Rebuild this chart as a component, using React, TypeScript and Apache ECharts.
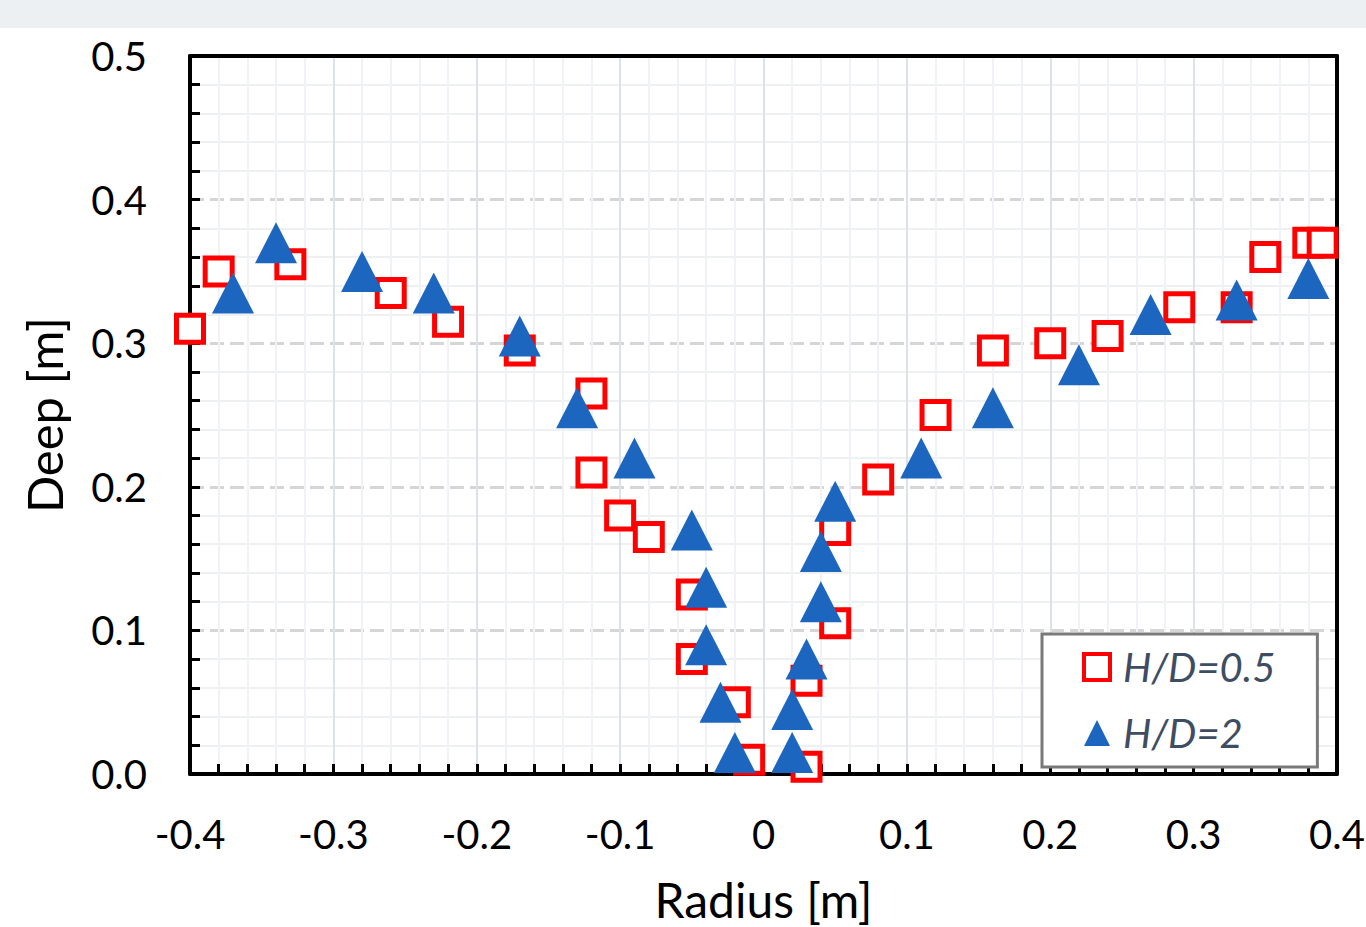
import React, { useEffect, useRef } from "react";
import * as echarts from "echarts";

const seriesNames = ["H/D=0.5", "H/D=2"];

const squareX = [-0.40, -0.38, -0.33, -0.26, -0.22, -0.17, -0.12, -0.12, -0.10, -0.08, -0.05, -0.05, -0.02, -0.01, 0.03, 0.03, 0.05, 0.05, 0.08, 0.12, 0.16, 0.20, 0.24, 0.29, 0.33, 0.35, 0.38, 0.39];
const squareY = [0.31, 0.35, 0.355, 0.335, 0.315, 0.295, 0.265, 0.21, 0.18, 0.165, 0.125, 0.08, 0.05, 0.01, 0.005, 0.065, 0.105, 0.17, 0.205, 0.25, 0.295, 0.30, 0.305, 0.325, 0.325, 0.36, 0.37, 0.37];

const triX = [-0.37, -0.34, -0.28, -0.23, -0.17, -0.13, -0.09, -0.05, -0.04, -0.04, -0.03, -0.02, 0.02, 0.02, 0.03, 0.04, 0.04, 0.05, 0.11, 0.16, 0.22, 0.27, 0.33, 0.38];
const triY = [0.335, 0.37, 0.35, 0.335, 0.305, 0.255, 0.22, 0.17, 0.13, 0.09, 0.05, 0.015, 0.015, 0.045, 0.08, 0.12, 0.155, 0.19, 0.22, 0.255, 0.285, 0.32, 0.33, 0.345];

const xTickValues = [-0.4, -0.3, -0.2, -0.1, 0, 0.1, 0.2, 0.3, 0.4];
const xTickLabels = ["-0.4", "-0.3", "-0.2", "-0.1", "0", "0.1", "0.2", "0.3", "0.4"];
const yTickValues = [0, 0.1, 0.2, 0.3, 0.4, 0.5];
const yTickLabels = ["0.0", "0.1", "0.2", "0.3", "0.4", "0.5"];

const xTitle = "Radius [m]";
const yTitle = "Deep [m]";

function lookup(values: number[], labels: string[], v: number) {
  for (let i = 0; i < values.length; i++) {
    if (Math.abs(values[i] - v) < 1e-6) return labels[i];
  }
  return "";
}

const FONT = "Lato";

export default function App() {
  const ref = useRef<HTMLDivElement>(null);
  useEffect(() => {
    if (!ref.current) return;
    const chart = echarts.init(ref.current, undefined, { renderer: "svg" });
    const sqData = squareX.map((x, i) => [x, squareY[i]]);
    const trData = triX.map((x, i) => [x, triY[i]]);
    const frameAxis = {
      axisLine: { show: true, onZero: false, lineStyle: { color: "#000", width: 4 } },
      axisTick: { show: false },
      axisLabel: { show: false },
      splitLine: { show: false },
    };
    chart.setOption({
      animation: false,
      backgroundColor: "#ffffff",
      textStyle: { fontFamily: FONT },
      graphic: [
        { type: "rect", left: 0, top: 0, shape: { width: 1366, height: 28 }, style: { fill: "#edf0f2" }, silent: true },
      ],
      grid: { left: 190, right: 29, top: 56, bottom: 153, containLabel: false, outerBoundsMode: "none" },
      legend: {
        left: 1042,
        top: 634,
        orient: "vertical",
        backgroundColor: "#ffffff",
        borderColor: "#7a7a7a",
        borderWidth: 3,
        padding: [13, 42, 14, 40],
        itemWidth: 26,
        itemHeight: 26,
        itemGap: 26,
        textStyle: {
          fontFamily: FONT,
          fontSize: 40,
          fontStyle: "italic",
          color: "#3f4d63",
          lineHeight: 40,
          padding: [0, 0, 0, 8],
        },
        data: [
          { name: seriesNames[0], icon: "rect", itemStyle: { color: "#ffffff", borderColor: "#ff0000", borderWidth: 4 } },
          { name: seriesNames[1], icon: "triangle", itemStyle: { color: "#1c66bf", borderWidth: 0 } },
        ],
      },
      xAxis: [
        {
          type: "value",
          min: -0.4,
          max: 0.4,
          interval: 0.1,
          name: xTitle,
          nameLocation: "middle",
          nameGap: 99,
          nameTextStyle: { fontFamily: FONT, fontSize: 48, lineHeight: 52, color: "#000" },
          axisLine: { show: true, onZero: false, lineStyle: { color: "#000", width: 4 } },
          axisTick: { show: true, inside: true, length: 10, lineStyle: { color: "#000", width: 3 } },
          minorTick: { show: true, splitNumber: 5, length: 10, lineStyle: { color: "#000", width: 3 } },
          axisLabel: {
            margin: 40,
            fontFamily: FONT,
            fontSize: 40,
            color: "#000",
            showMinLabel: true,
            showMaxLabel: true,
            formatter: (v: number) => lookup(xTickValues, xTickLabels, v),
          },
          splitLine: { show: true, lineStyle: { color: "#dbe2eb", width: 2 } },
          minorSplitLine: { show: true, lineStyle: { color: "#eff2f6", width: 2 } },
        },
        { type: "value", position: "top", min: -0.4, max: 0.4, interval: 0.1, ...frameAxis },
      ],
      yAxis: [
        {
          type: "value",
          min: 0,
          max: 0.5,
          interval: 0.1,
          name: yTitle,
          nameLocation: "middle",
          nameGap: 122,
          nameTextStyle: { fontFamily: FONT, fontSize: 49, color: "#000" },
          axisLine: { show: true, onZero: false, lineStyle: { color: "#000", width: 4 } },
          axisTick: { show: true, inside: true, length: 10, lineStyle: { color: "#000", width: 3 } },
          minorTick: { show: true, splitNumber: 5, length: 10, lineStyle: { color: "#000", width: 3 } },
          axisLabel: {
            margin: 43,
            fontFamily: FONT,
            fontSize: 40,
            color: "#000",
            formatter: (v: number) => lookup(yTickValues, yTickLabels, v),
          },
          splitLine: { show: true, lineStyle: { color: "#d6d6d6", width: 3, type: [14, 6] } },
          minorSplitLine: { show: true, lineStyle: { color: "#eff0f2", width: 2 } },
        },
        { type: "value", position: "right", min: 0, max: 0.5, interval: 0.1, ...frameAxis },
      ],
      series: [
        {
          name: seriesNames[0],
          type: "scatter",
          data: sqData,
          clip: false,
          symbol: "rect",
          symbolSize: 27,
          itemStyle: { color: "#ffffff", borderColor: "#ff0000", borderWidth: 5, opacity: 1 },
          z: 3,
        },
        {
          name: seriesNames[1],
          type: "scatter",
          data: trData,
          clip: false,
          symbol: "triangle",
          symbolSize: [42, 41],
          itemStyle: { color: "#1c66bf", opacity: 1 },
          z: 4,
        },
      ],
    });
    return () => chart.dispose();
  }, []);
  return (
    <div
      ref={ref}
      style={{ position: "absolute", left: 0, top: 0, width: 1366, height: 927, background: "#fff" }}
    />
  );
}
